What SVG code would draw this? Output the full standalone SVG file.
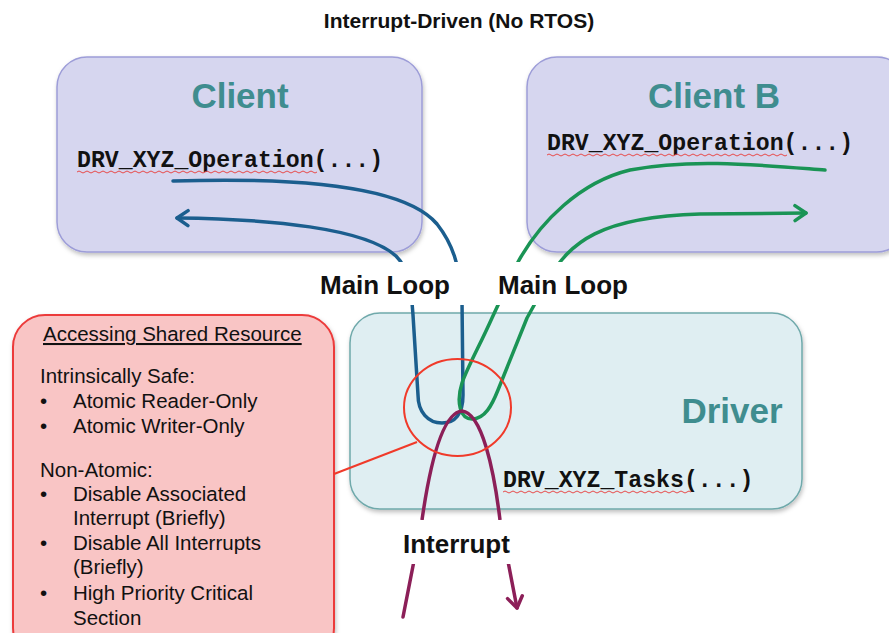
<svg xmlns="http://www.w3.org/2000/svg" width="889" height="633" viewBox="0 0 889 633">
  <style>
    .title { font-family: "Liberation Sans", Arial, sans-serif; font-weight: bold; font-size: 21px; fill: #111; }
    .head { font-family: "Liberation Sans", Arial, sans-serif; font-weight: bold; font-size: 35px; fill: #3f8d8f; text-anchor: middle; }
    .code { font-family: "Liberation Mono", "Courier New", monospace; font-weight: bold; font-size: 23.2px; fill: #111; }
    .label { font-family: "Liberation Sans", Arial, sans-serif; font-weight: bold; font-size: 26px; fill: #111; }
    .note { font-family: "Liberation Sans", Arial, sans-serif; font-size: 20.5px; fill: #111; }
    .squiggle { fill: none; stroke: #e84a4a; stroke-width: 1; }
    .flow { fill: none; stroke-width: 3.5; stroke-linecap: round; stroke-linejoin: round; }
    .client { fill: #d6d6ef; stroke: #9d9dd8; stroke-width: 1.5; }
    .driver { fill: #dfeef2; stroke: #6fa9ab; stroke-width: 1.5; }
    .warn { fill: #f9c5c5; stroke: #ec3b3b; stroke-width: 2; }
  </style>
  <defs>
    <filter id="shadow" x="-10%" y="-10%" width="120%" height="130%">
      <feDropShadow dx="1" dy="2.5" stdDeviation="2" flood-color="#000" flood-opacity="0.25"/>
    </filter>
    <marker id="arrow-blue" viewBox="-14 -10 16 20" markerWidth="16" markerHeight="20" refX="0" refY="0" orient="auto" markerUnits="userSpaceOnUse">
      <path d="M-11,-7.5 L0,0 L-11,7.5" fill="none" stroke="#1b5e8e" stroke-width="3.5" stroke-linecap="round" stroke-linejoin="round"/>
    </marker>
    <marker id="arrow-green" viewBox="-14 -10 16 20" markerWidth="16" markerHeight="20" refX="0" refY="0" orient="auto" markerUnits="userSpaceOnUse">
      <path d="M-11,-7.5 L0,0 L-11,7.5" fill="none" stroke="#1a9455" stroke-width="3.5" stroke-linecap="round" stroke-linejoin="round"/>
    </marker>
    <marker id="arrow-purple" viewBox="-14 -10 16 20" markerWidth="16" markerHeight="20" refX="0" refY="0" orient="auto" markerUnits="userSpaceOnUse">
      <path d="M-11,-7.5 L0,0 L-11,7.5" fill="none" stroke="#8c1f58" stroke-width="3.5" stroke-linecap="round" stroke-linejoin="round"/>
    </marker>
  </defs>

  <rect width="889" height="633" fill="#fff"/>

  <text class="title" x="459" y="28" text-anchor="middle">Interrupt-Driven (No RTOS)</text>

  <!-- Client -->
  <g id="client">
    <rect class="client" x="57" y="57" width="365" height="195" rx="30" filter="url(#shadow)"/>
    <text class="head" x="240" y="108">Client</text>
    <text class="code" x="77" y="167">DRV_XYZ_Operation(...)</text>
    <path class="squiggle" d="M77,172 q2,-2 4,0 t4,0 t4,0 t4,0 t4,0 t4,0 t4,0 t4,0 t4,0 t4,0 t4,0 t4,0 t4,0 t4,0 t4,0 t4,0 t4,0 t4,0 t4,0 t4,0 t4,0 t4,0 t4,0 t4,0 t4,0 t4,0 t4,0 t4,0 t4,0 t4,0 t4,0 t4,0 t4,0 t4,0 t4,0 t4,0 t4,0 t4,0 t4,0 t4,0 t4,0 t4,0 t4,0 t4,0 t4,0 t4,0 t4,0 t4,0 t4,0 t4,0 t4,0 t4,0 t4,0 t4,0 t4,0 t4,0 t4,0 t4,0 t4,0 t4,0"/>
  </g>

  <!-- Client B -->
  <g id="client-b">
    <rect class="client" x="527" y="57" width="380" height="195" rx="30" filter="url(#shadow)"/>
    <text class="head" x="714" y="108">Client B</text>
    <text class="code" x="547" y="150">DRV_XYZ_Operation(...)</text>
    <path class="squiggle" d="M547,155 q2,-2 4,0 t4,0 t4,0 t4,0 t4,0 t4,0 t4,0 t4,0 t4,0 t4,0 t4,0 t4,0 t4,0 t4,0 t4,0 t4,0 t4,0 t4,0 t4,0 t4,0 t4,0 t4,0 t4,0 t4,0 t4,0 t4,0 t4,0 t4,0 t4,0 t4,0 t4,0 t4,0 t4,0 t4,0 t4,0 t4,0 t4,0 t4,0 t4,0 t4,0 t4,0 t4,0 t4,0 t4,0 t4,0 t4,0 t4,0 t4,0 t4,0 t4,0 t4,0 t4,0 t4,0 t4,0 t4,0 t4,0 t4,0 t4,0 t4,0 t4,0"/>
  </g>

  <!-- Driver -->
  <g id="driver">
    <rect class="driver" x="350" y="313" width="452" height="196" rx="30" filter="url(#shadow)"/>
    <text class="head" x="732" y="423">Driver</text>
    <text class="code" x="503" y="487">DRV_XYZ_Tasks(...)</text>
    <path class="squiggle" d="M503,492 q2,-2 4,0 t4,0 t4,0 t4,0 t4,0 t4,0 t4,0 t4,0 t4,0 t4,0 t4,0 t4,0 t4,0 t4,0 t4,0 t4,0 t4,0 t4,0 t4,0 t4,0 t4,0 t4,0 t4,0 t4,0 t4,0 t4,0 t4,0 t4,0 t4,0 t4,0 t4,0 t4,0 t4,0 t4,0 t4,0 t4,0 t4,0 t4,0 t4,0 t4,0 t4,0 t4,0 t4,0 t4,0 t4,0 t4,0 t4,0"/>
  </g>

  <!-- Shared-resource notes -->
  <g id="shared-resource">
    <rect class="warn" x="13" y="315" width="321" height="345" rx="32" filter="url(#shadow)"/>
    <text class="note" x="43" y="341" text-decoration="underline">Accessing Shared Resource</text>
    <text class="note" x="40" y="383">Intrinsically Safe:</text>
    <text class="note" x="40" y="408">•</text>
    <text class="note" x="73" y="408">Atomic Reader-Only</text>
    <text class="note" x="40" y="433">•</text>
    <text class="note" x="73" y="433">Atomic Writer-Only</text>
    <text class="note" x="40" y="477">Non-Atomic:</text>
    <text class="note" x="40" y="501">•</text>
    <text class="note" x="73" y="501">Disable Associated</text>
    <text class="note" x="73" y="525">Interrupt (Briefly)</text>
    <text class="note" x="40" y="550">•</text>
    <text class="note" x="73" y="550">Disable All Interrupts</text>
    <text class="note" x="73" y="574">(Briefly)</text>
    <text class="note" x="40" y="600">•</text>
    <text class="note" x="73" y="600">High Priority Critical</text>
    <text class="note" x="73" y="625">Section</text>
  </g>

  <!-- Connectors -->
  <g id="connectors">
    <!-- client main loop -->
    <path class="flow" stroke="#1b5e8e" marker-end="url(#arrow-blue)"
      d="M173,181 C300,177 405,186 437,224 C452,243 460,265 462,300 L463,395 C463,414 455,423 442,423 C428,423 418,412 418,395 L413,315 C411,285 408,268 396,256 C365,228 270,219 177,218"/>
    <!-- client B main loop -->
    <path class="flow" stroke="#1a9455" marker-end="url(#arrow-green)"
      d="M825,170 C760,165 690,158 630,170 C580,182 540,222 518,262 L492,318 C480,345 468,366 462,383 C456,402 460,419 472,419 C485,419 492,405 498,390 L527,318 L548,280 C570,242 600,217 700,214 L806,213"/>
    <!-- interrupt -->
    <path class="flow" stroke="#8c1f58" marker-end="url(#arrow-purple)"
      d="M403,617 L422,520 C428,478 440,413 462,411 C482,413 494,470 500,520 L517,608"/>
    <!-- shared-resource callout -->
    <ellipse cx="457.5" cy="407.5" rx="53.5" ry="48.5" fill="none" stroke="#f03a2a" stroke-width="2"/>
    <line x1="417" y1="442" x2="334" y2="474" stroke="#f03a2a" stroke-width="2"/>
  </g>

  <!-- Flow labels, with white backing that breaks the lines -->
  <g id="label-main-loop-a">
    <rect x="300" y="262" width="167" height="43" fill="#fff"/>
    <text class="label" x="320" y="294">Main Loop</text>
  </g>
  <g id="label-main-loop-b">
    <rect x="478" y="262" width="170" height="43" fill="#fff"/>
    <text class="label" x="498" y="294">Main Loop</text>
  </g>
  <g id="label-interrupt">
    <rect x="395" y="520" width="125" height="44" fill="#fff"/>
    <text class="label" x="403" y="553">Interrupt</text>
  </g>
</svg>
